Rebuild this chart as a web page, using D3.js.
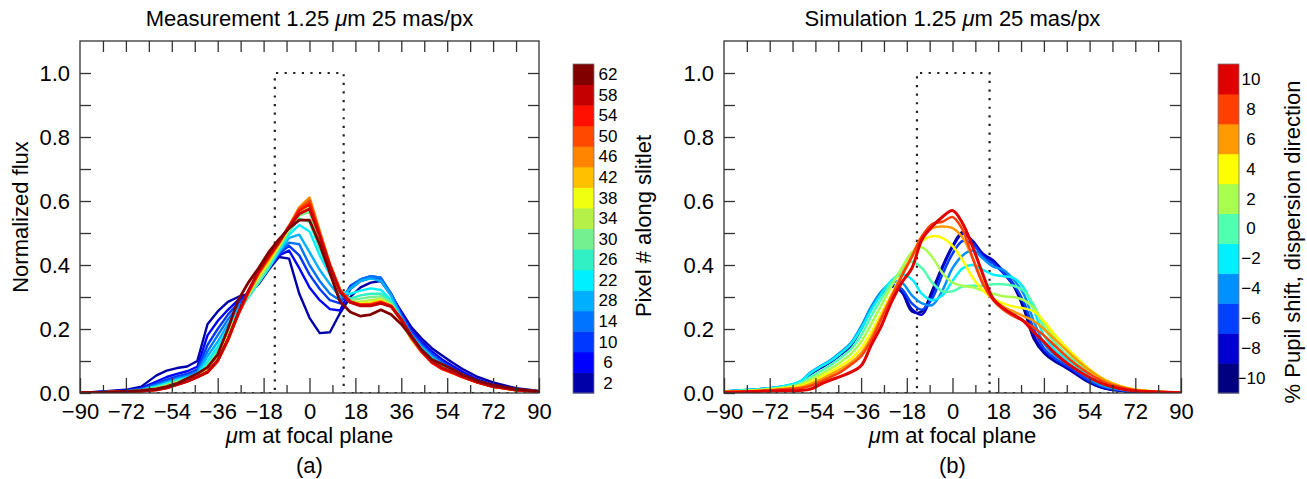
<!DOCTYPE html>
<html><head><meta charset="utf-8">
<script src="https://cdn.jsdelivr.net/npm/d3@7"></script>
<style>
body{margin:0;background:#fff}
svg text{font-family:"Liberation Sans",Arial,Helvetica,sans-serif;fill:#000}
</style>
</head><body>
<svg id="chart" width="1307" height="479"></svg>
<script>
// ---------- DATA ----------
const xGrid = [-90,-81,-72,-66,-60,-56,-52,-48,-44,-40,-36,-32,-28,-24,-20,-16,-12,-8,-4,0,4,8,12,16,20,24,28,32,36,40,44,48,52,56,60,66,72,81,90];

const xTickValues = [-90,-72,-54,-36,-18,0,18,36,54,72,90];
const xTickLabels = ["\u221290","\u221272","\u221254","\u221236","\u221218","0","18","36","54","72","90"];
const yTickValues = [0,0.2,0.4,0.6,0.8,1.0];
const yTickLabels = ["0.0","0.2","0.4","0.6","0.8","1.0"];

// slit function (dotted)
const slitMeasX = [-90,-13.6,-13.6,13.4,13.4,90];
const slitSimX  = [-90,-14.0,-14.0,14.6,14.6,90];
const slitY     = [0,0,1,1,0,0];

// Measurement: pixel # along slitlet
const measLabels = ["2","6","10","14","28","22","26","30","34","38","42","46","50","54","58","62"];
const measColors = ["#0000a8","#0000ff","#0038ff","#0074ff","#00b0ff","#00f0ff","#30f0c4","#74f090","#b4f048","#f0ff10","#ffc000","#ff8400","#ff4800","#ff1000","#c40000","#800000"];
const m02 = [0,0.005,0.01,0.02,0.055,0.07,0.078,0.083,0.10,0.215,0.255,0.285,0.30,0.31,0.34,0.385,0.425,0.42,0.31,0.235,0.187,0.19,0.25,0.30,0.33,0.345,0.35,0.305,0.255,0.205,0.17,0.14,0.117,0.095,0.075,0.05,0.033,0.015,0.006];
const m06 = [0,0.004,0.008,0.015,0.036,0.05,0.06,0.068,0.082,0.18,0.225,0.26,0.29,0.31,0.345,0.39,0.43,0.445,0.39,0.33,0.29,0.262,0.258,0.325,0.35,0.36,0.355,0.31,0.25,0.195,0.16,0.13,0.105,0.085,0.066,0.042,0.026,0.012,0.005];
const m10 = [0,0.003,0.007,0.013,0.03,0.042,0.052,0.06,0.073,0.15,0.2,0.245,0.28,0.305,0.345,0.39,0.435,0.46,0.43,0.37,0.325,0.29,0.28,0.335,0.355,0.365,0.36,0.31,0.245,0.19,0.152,0.122,0.097,0.078,0.06,0.038,0.023,0.011,0.004];
const m14 = [0,0.003,0.006,0.011,0.025,0.036,0.046,0.054,0.066,0.13,0.18,0.23,0.27,0.30,0.345,0.39,0.44,0.47,0.465,0.40,0.35,0.31,0.29,0.33,0.355,0.365,0.36,0.31,0.24,0.185,0.147,0.117,0.092,0.075,0.058,0.036,0.021,0.01,0.004];
const m18 = [0,0.002,0.005,0.01,0.022,0.032,0.042,0.05,0.062,0.115,0.16,0.215,0.26,0.30,0.345,0.39,0.44,0.485,0.495,0.44,0.385,0.34,0.30,0.325,0.35,0.358,0.35,0.305,0.235,0.18,0.143,0.113,0.089,0.072,0.056,0.035,0.021,0.01,0.004];
const m22 = [0,0.002,0.005,0.009,0.02,0.03,0.04,0.048,0.058,0.10,0.145,0.20,0.255,0.30,0.345,0.39,0.445,0.495,0.525,0.505,0.43,0.37,0.315,0.31,0.32,0.327,0.322,0.29,0.23,0.175,0.138,0.108,0.085,0.07,0.055,0.034,0.02,0.009,0.004];
const m26 = [0,0.002,0.004,0.008,0.018,0.027,0.037,0.045,0.055,0.09,0.135,0.19,0.25,0.30,0.345,0.395,0.45,0.505,0.545,0.535,0.45,0.38,0.315,0.295,0.305,0.31,0.31,0.285,0.228,0.173,0.135,0.105,0.083,0.068,0.054,0.034,0.02,0.009,0.004];
const m30 = [0,0.002,0.004,0.008,0.016,0.025,0.035,0.043,0.053,0.085,0.125,0.185,0.25,0.305,0.35,0.40,0.455,0.51,0.555,0.565,0.47,0.385,0.315,0.29,0.295,0.30,0.302,0.28,0.226,0.17,0.132,0.102,0.08,0.066,0.052,0.033,0.02,0.009,0.004];
const m34 = [0,0.002,0.004,0.007,0.014,0.023,0.033,0.041,0.052,0.075,0.115,0.18,0.25,0.31,0.36,0.405,0.46,0.515,0.56,0.58,0.48,0.39,0.315,0.285,0.285,0.29,0.295,0.276,0.225,0.168,0.13,0.1,0.078,0.065,0.051,0.033,0.02,0.009,0.004];
const m38 = [0,0.002,0.004,0.007,0.013,0.021,0.031,0.04,0.05,0.07,0.11,0.175,0.25,0.31,0.365,0.41,0.46,0.515,0.565,0.59,0.49,0.395,0.318,0.283,0.28,0.283,0.29,0.274,0.224,0.167,0.128,0.098,0.077,0.064,0.05,0.033,0.02,0.009,0.004];
const m42 = [0,0.002,0.004,0.006,0.012,0.019,0.029,0.039,0.05,0.068,0.105,0.17,0.248,0.312,0.37,0.415,0.465,0.52,0.575,0.605,0.5,0.4,0.32,0.283,0.277,0.279,0.287,0.272,0.225,0.168,0.128,0.097,0.077,0.064,0.05,0.033,0.02,0.009,0.004];
const m46 = [0,0.002,0.004,0.006,0.011,0.018,0.028,0.038,0.05,0.066,0.102,0.167,0.246,0.313,0.372,0.42,0.468,0.522,0.58,0.61,0.505,0.402,0.322,0.284,0.276,0.277,0.285,0.272,0.226,0.17,0.128,0.096,0.076,0.064,0.05,0.033,0.02,0.009,0.004];
const m50 = [0,0.002,0.004,0.006,0.011,0.017,0.027,0.037,0.05,0.065,0.1,0.165,0.245,0.315,0.375,0.423,0.47,0.52,0.575,0.60,0.5,0.40,0.32,0.285,0.275,0.276,0.284,0.272,0.228,0.172,0.128,0.095,0.075,0.063,0.05,0.033,0.02,0.009,0.004];
const m54 = [0,0.002,0.004,0.006,0.01,0.016,0.026,0.036,0.05,0.065,0.1,0.165,0.245,0.315,0.377,0.425,0.47,0.52,0.57,0.59,0.495,0.40,0.32,0.286,0.275,0.275,0.283,0.272,0.23,0.175,0.13,0.095,0.076,0.064,0.05,0.033,0.02,0.009,0.004];
const m58 = [0,0.002,0.004,0.006,0.01,0.016,0.026,0.036,0.05,0.066,0.102,0.168,0.25,0.32,0.38,0.428,0.472,0.52,0.56,0.575,0.49,0.395,0.315,0.283,0.272,0.272,0.28,0.27,0.23,0.178,0.133,0.098,0.079,0.066,0.052,0.034,0.021,0.01,0.004];
const m62 = [0,0.002,0.005,0.008,0.013,0.02,0.03,0.045,0.06,0.08,0.12,0.2,0.29,0.345,0.39,0.44,0.48,0.515,0.54,0.54,0.465,0.375,0.285,0.253,0.24,0.245,0.26,0.245,0.215,0.175,0.135,0.105,0.09,0.075,0.058,0.038,0.025,0.012,0.005];
const measSeries = [m02,m06,m10,m14,m18,m22,m26,m30,m34,m38,m42,m46,m50,m54,m58,m62];

// Simulation: % pupil shift, dispersion direction
const simLabels = ["\u221210","\u22128","\u22126","\u22124","\u22122","0","2","4","6","8","10"];
const simColors = ["#000080","#0000d0","#0040ff","#0090ff","#00f0ff","#50ffb0","#a8ff50","#ffff00","#ff9a00","#ff4000","#e00000"];
const sN10 = [0.005,0.008,0.014,0.02,0.03,0.058,0.078,0.097,0.12,0.148,0.2,0.262,0.31,0.332,0.315,0.255,0.255,0.32,0.395,0.46,0.503,0.47,0.43,0.41,0.375,0.335,0.265,0.17,0.125,0.1,0.082,0.062,0.041,0.025,0.014,0.007,0.004,0.002,0.001];
const sN08 = [0.005,0.008,0.014,0.02,0.032,0.06,0.08,0.098,0.122,0.15,0.203,0.265,0.312,0.333,0.318,0.262,0.245,0.31,0.39,0.455,0.498,0.475,0.435,0.415,0.38,0.34,0.275,0.18,0.13,0.105,0.085,0.065,0.043,0.026,0.015,0.008,0.004,0.002,0.001];
const sN06 = [0.005,0.009,0.015,0.021,0.034,0.062,0.082,0.1,0.125,0.153,0.205,0.268,0.315,0.338,0.325,0.28,0.26,0.295,0.37,0.435,0.475,0.465,0.425,0.405,0.375,0.34,0.285,0.2,0.14,0.11,0.09,0.07,0.048,0.03,0.018,0.009,0.005,0.002,0.001];
const sN04 = [0.005,0.009,0.015,0.022,0.036,0.064,0.084,0.103,0.128,0.157,0.208,0.27,0.318,0.345,0.345,0.305,0.28,0.275,0.32,0.39,0.43,0.445,0.42,0.395,0.385,0.355,0.31,0.225,0.155,0.12,0.098,0.078,0.055,0.035,0.021,0.011,0.006,0.002,0.001];
const sN02 = [0.005,0.009,0.015,0.022,0.036,0.062,0.082,0.1,0.124,0.153,0.2,0.26,0.31,0.352,0.37,0.355,0.31,0.29,0.305,0.35,0.39,0.40,0.385,0.37,0.365,0.36,0.33,0.26,0.18,0.138,0.11,0.088,0.062,0.04,0.025,0.013,0.007,0.003,0.001];
const sP00 = [0.004,0.008,0.013,0.019,0.03,0.05,0.068,0.087,0.11,0.137,0.18,0.24,0.295,0.345,0.385,0.41,0.39,0.345,0.318,0.318,0.333,0.335,0.335,0.34,0.34,0.335,0.32,0.275,0.205,0.16,0.127,0.1,0.073,0.05,0.032,0.017,0.008,0.003,0.001];
const sP02 = [0.004,0.007,0.012,0.017,0.026,0.042,0.058,0.076,0.097,0.122,0.16,0.215,0.275,0.335,0.39,0.44,0.455,0.425,0.375,0.345,0.335,0.33,0.32,0.31,0.302,0.3,0.29,0.265,0.22,0.175,0.14,0.11,0.082,0.057,0.038,0.02,0.01,0.004,0.001];
const sP04 = [0.004,0.006,0.01,0.015,0.022,0.035,0.05,0.066,0.085,0.107,0.14,0.19,0.25,0.31,0.37,0.425,0.475,0.49,0.485,0.46,0.415,0.36,0.32,0.295,0.28,0.27,0.265,0.255,0.225,0.185,0.15,0.118,0.088,0.062,0.042,0.022,0.011,0.004,0.001];
const sP06 = [0.003,0.005,0.009,0.013,0.018,0.028,0.042,0.058,0.075,0.095,0.125,0.175,0.24,0.305,0.37,0.43,0.49,0.515,0.52,0.515,0.485,0.42,0.345,0.295,0.27,0.255,0.24,0.225,0.2,0.17,0.14,0.11,0.083,0.06,0.04,0.021,0.01,0.004,0.001];
const sP08 = [0.003,0.005,0.008,0.012,0.015,0.022,0.035,0.05,0.066,0.088,0.115,0.165,0.232,0.3,0.365,0.425,0.49,0.528,0.535,0.55,0.51,0.42,0.34,0.29,0.26,0.24,0.225,0.205,0.18,0.15,0.12,0.093,0.07,0.05,0.033,0.018,0.009,0.004,0.001];
const sP10 = [0.002,0.004,0.006,0.007,0.008,0.012,0.027,0.04,0.052,0.065,0.085,0.15,0.21,0.285,0.345,0.39,0.48,0.52,0.55,0.57,0.53,0.456,0.37,0.295,0.265,0.245,0.225,0.19,0.16,0.127,0.1,0.077,0.057,0.04,0.026,0.013,0.006,0.003,0.001];
const simSeries = [sN10,sN08,sN06,sN04,sN02,sP00,sP02,sP04,sP06,sP08,sP10];

// ---------- DRAW ----------
const svg = d3.select("#chart");
const FONT = '"Liberation Sans",Arial,Helvetica,sans-serif';
const TOP = 41, BOT = 393;
const FS = 22;

function drawPanel(o) {
  const x = d3.scaleLinear().domain([-90, 90]).range([o.left, o.right]);
  const y = d3.scaleLinear().domain([0, 1.1]).range([BOT, TOP]);
  const g = svg.append("g");
  const clipId = "clip" + o.id;
  svg.append("clipPath").attr("id", clipId).append("rect")
    .attr("x", o.left).attr("y", TOP).attr("width", o.right - o.left).attr("height", BOT - TOP);

  // slit (dotted)
  const slitPts = o.slitX.map((d, i) => [d, slitY[i]]);
  g.append("path").attr("clip-path", `url(#${clipId})`)
    .attr("d", d3.line().x(d => x(d[0])).y(d => y(d[1]))(slitPts))
    .attr("fill", "none").attr("stroke", "#222").attr("stroke-width", 2.2)
    .attr("stroke-dasharray", "2.2 6.4");

  // curves
  const line = d3.line().x((d, i) => x(xGrid[i])).y(d => y(d)).curve(o.curve);
  const cg = g.append("g").attr("clip-path", `url(#${clipId})`);
  o.series.forEach((s, i) => {
    cg.append("path").attr("d", line(s)).attr("fill", "none")
      .attr("stroke", o.colors[i]).attr("stroke-width", o.widths(i))
      .attr("stroke-linejoin", "round").attr("stroke-linecap", "round");
  });

  // axes
  const styleAxis = sel => {
    sel.select(".domain").remove();
    sel.selectAll("line").attr("stroke", "#333").attr("stroke-width", 1.3);
    sel.selectAll("text").attr("font-family", FONT).attr("font-size", FS).attr("fill", "#000");
  };
  g.append("g").attr("transform", `translate(0,${BOT})`)
    .call(d3.axisBottom(x).tickValues(d3.range(-81, 90, 18)).tickSize(-8).tickFormat(""))
    .call(styleAxis);
  g.append("g").attr("transform", `translate(0,${BOT})`)
    .call(d3.axisBottom(x).tickValues(xTickValues).tickSize(-15).tickPadding(10)
      .tickFormat((d, i) => xTickLabels[i]))
    .call(styleAxis);
  g.append("g").attr("transform", `translate(0,${TOP})`)
    .call(d3.axisTop(x).tickValues(d3.range(-81, 90, 9)).tickSize(-11).tickFormat(""))
    .call(styleAxis);
  g.append("g").attr("transform", `translate(${o.left},0)`)
    .call(d3.axisLeft(y).tickValues(d3.range(0.1, 1.05, 0.2)).tickSize(-11).tickFormat(""))
    .call(styleAxis);
  g.append("g").attr("transform", `translate(${o.left},0)`)
    .call(d3.axisLeft(y).tickValues(yTickValues).tickSize(-11).tickPadding(10)
      .tickFormat((d, i) => yTickLabels[i]))
    .call(styleAxis);
  g.append("g").attr("transform", `translate(${o.right},0)`)
    .call(d3.axisRight(y).tickValues(d3.range(0.1, 1.05, 0.1)).tickSize(-11).tickFormat(""))
    .call(styleAxis);

  // frame
  g.append("rect").attr("x", o.left).attr("y", TOP).attr("width", o.right - o.left)
    .attr("height", BOT - TOP).attr("fill", "none").attr("stroke", "#333").attr("stroke-width", 1.3);

  const cx = (o.left + o.right) / 2;
  // title
  const t = g.append("text").attr("x", cx).attr("y", 26).attr("text-anchor", "middle").attr("font-size", FS);
  t.append("tspan").text(o.title + " 1.25 ");
  t.append("tspan").attr("font-style", "italic").text("\u03bc");
  t.append("tspan").text("m 25 mas/px");
  // x label
  const xl = g.append("text").attr("x", cx).attr("y", 443).attr("text-anchor", "middle").attr("font-size", FS);
  xl.append("tspan").attr("font-style", "italic").text("\u03bc");
  xl.append("tspan").text("m at focal plane");
  g.append("text").attr("x", cx).attr("y", 473).attr("text-anchor", "middle").attr("font-size", FS).text(o.tag);

  // colorbar
  const cb = d3.scaleBand().domain(o.cbLabels.slice().reverse()).range([64, 393]);
  const cbg = g.append("g");
  o.cbLabels.forEach((lab, i) => {
    cbg.append("rect").attr("x", o.cbX).attr("y", cb(lab)).attr("width", 21)
      .attr("height", cb.bandwidth() + 0.5).attr("fill", o.colors[i]);
    cbg.append("text").attr("x", o.cbX + 21 + o.cbLabOff).attr("y", cb(lab) + cb.bandwidth() / 2)
      .attr("dy", "0.35em").attr("text-anchor", "middle").attr("font-size", 17).text(lab);
  });
  cbg.append("rect").attr("x", o.cbX).attr("y", 64).attr("width", 21).attr("height", 329)
    .attr("fill", "none").attr("stroke", "#777").attr("stroke-width", 0.8);
  g.append("text").attr("transform", `translate(${o.cbTitleX},${o.cbTitleY}) rotate(-90)`)
    .attr("text-anchor", "middle").attr("dy", "0.35em").attr("font-size", FS).text(o.cbTitle);
}

drawPanel({
  id: "a", left: 80, right: 539, title: "Measurement", tag: "(a)",
  series: measSeries, colors: measColors, slitX: slitMeasX,
  curve: d3.curveLinear, widths: i => (i >= 10 ? 2.8 : 2.4),
  cbLabels: measLabels, cbX: 573, cbLabOff: 14, cbTitleX: 643, cbTitleY: 226,
  cbTitle: "Pixel  # along slitlet"
});
drawPanel({
  id: "b", left: 724, right: 1181, title: "Simulation", tag: "(b)",
  series: simSeries, colors: simColors, slitX: slitSimX,
  curve: d3.curveCatmullRom.alpha(0.5), widths: i => (i === 10 ? 3 : 2.5),
  cbLabels: simLabels, cbX: 1218, cbLabOff: 12, cbTitleX: 1292, cbTitleY: 242,
  cbTitle: "% Pupil shift, dispersion direction"
});

// y-axis label (left panel)
svg.append("text").attr("transform", "translate(20,217) rotate(-90)")
  .attr("text-anchor", "middle").attr("dy", "0.35em").attr("font-size", FS).text("Normalized flux");
</script>
</body></html>
